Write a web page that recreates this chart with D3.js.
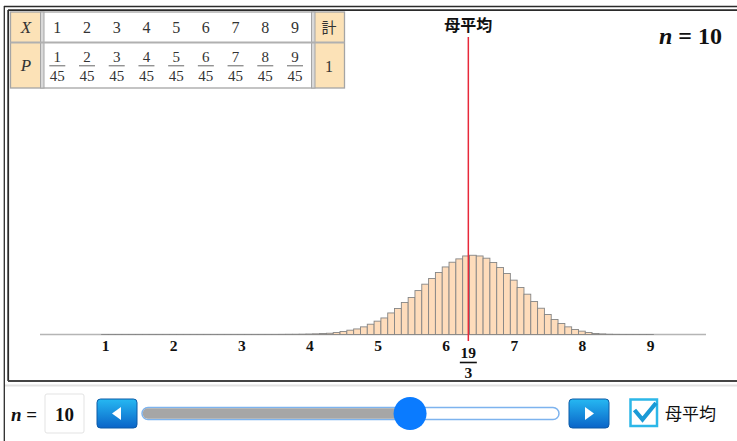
<!DOCTYPE html>
<html><head><meta charset="utf-8">
<script src="https://cdn.jsdelivr.net/npm/d3@7"></script>
<style>
html,body{margin:0;padding:0;background:#fff;overflow:hidden}
svg{display:block}
.serif{font-family:"Liberation Serif","DejaVu Serif",serif}
.cjk{font-family:"Noto Sans CJK JP","Noto Sans CJK SC",sans-serif}
</style>
</head><body>
<svg id="c" width="737" height="441"></svg>
<script>
// ---------- data ----------
const tableX = [1, 2, 3, 4, 5, 6, 7, 8, 9];
const tableNum = [1, 2, 3, 4, 5, 6, 7, 8, 9];
const tableDen = 45;
const totalHeader = "計";
const totalValue = "1";
const sampleSize = 10;
const popMean = 19 / 3;
const meanLabel = "母平均";
const axisTicks = [1, 2, 3, 4, 5, 6, 7, 8, 9];
const sampleMeans = [1.0,1.1,1.2,1.3,1.4,1.5,1.6,1.7,1.8,1.9,
  2.0,2.1,2.2,2.3,2.4,2.5,2.6,2.7,2.8,2.9,
  3.0,3.1,3.2,3.3,3.4,3.5,3.6,3.7,3.8,3.9,
  4.0,4.1,4.2,4.3,4.4,4.5,4.6,4.7,4.8,4.9,
  5.0,5.1,5.2,5.3,5.4,5.5,5.6,5.7,5.8,5.9,
  6.0,6.1,6.2,6.3,6.4,6.5,6.6,6.7,6.8,6.9,
  7.0,7.1,7.2,7.3,7.4,7.5,7.6,7.7,7.8,7.9,
  8.0,8.1,8.2,8.3,8.4,8.5,8.6,8.7,8.8,8.9,9.0];
const probs = [0,0,0,0,0,0,0,0,0,0,
  0,0,0,0,0,0,0,0,0,0,
  0,0,0,0,0,0.00003,0.00006,0.0001,0.00012,0.00018,
  0.0003,0.00045,0.0007,0.0009,0.0014,0.0022,0.0031,0.0040,0.0055,0.0074,
  0.0096,0.0119,0.0155,0.0187,0.0230,0.0266,0.0316,0.0362,0.0403,0.0446,
  0.0486,0.0520,0.0544,0.0565,0.0570,0.0565,0.0549,0.0518,0.0482,0.0439,
  0.0391,0.0338,0.0290,0.0237,0.0189,0.0144,0.0108,0.0079,0.0055,0.0036,
  0.0024,0.0014,0.0007,0.0004,0.00015,0.00007,0.00003,0.00001,0,0,0];
const sliderRange = [1, 15];

// ---------- drawing ----------
const svg = d3.select("#c");
const x = d3.scaleLinear().domain([1, 9]).range([105, 650]);
const baseY = 334.5;
const y = d3.scaleLinear().domain([0, 0.06]).range([baseY, baseY - 0.06 * 1390]);
const bw = x(1.1) - x(1.0);

// frame
const frame = svg.append("g").attr("stroke", "#2b2b2b").attr("fill", "none");
frame.append("line").attr("x1", 4).attr("x2", 737).attr("y1", 6.5).attr("y2", 6.5).attr("stroke-width", 1.3);
frame.append("line").attr("x1", 8).attr("x2", 737).attr("y1", 10.2).attr("y2", 10.2).attr("stroke-width", 1.8);
frame.append("line").attr("x1", 4.3).attr("x2", 4.3).attr("y1", 6).attr("y2", 441).attr("stroke-width", 1.3);
frame.append("line").attr("x1", 8.2).attr("x2", 8.2).attr("y1", 10).attr("y2", 381).attr("stroke-width", 1.8);
frame.append("line").attr("x1", 8).attr("x2", 737).attr("y1", 381).attr("y2", 381).attr("stroke-width", 2).attr("stroke", "#444");
svg.append("line").attr("x1", 5).attr("x2", 737).attr("y1", 385.5).attr("y2", 385.5)
  .attr("stroke", "#e2e2e2").attr("stroke-width", 2);

// table
const tbl = svg.append("g");
const colX = d3.scaleLinear().domain([1, 9]).range([57.3, 295]);
const beige = "#fce2b7";
tbl.append("rect").attr("x", 10.5).attr("y", 12).attr("width", 334).attr("height", 76).attr("fill", "#fff");
tbl.append("rect").attr("x", 10.5).attr("y", 12).attr("width", 30).attr("height", 76).attr("fill", beige);
tbl.append("rect").attr("x", 314.5).attr("y", 12).attr("width", 30).attr("height", 76).attr("fill", beige);
tbl.append("rect").attr("x", 10.5).attr("y", 12).attr("width", 334).attr("height", 76)
  .attr("fill", "none").attr("stroke", "#a5a5a5").attr("stroke-width", 1.3);
[[40.5, 44], [311.5, 315]].forEach(([a, b]) => {
  tbl.append("rect").attr("x", a).attr("y", 12).attr("width", b - a).attr("height", 76)
    .attr("fill", "#d9d9d9").attr("stroke", "#a5a5a5").attr("stroke-width", 1);
});
tbl.append("line").attr("x1", 10.5).attr("x2", 344.5).attr("y1", 42.5).attr("y2", 42.5)
  .attr("stroke", "#b0b0b0").attr("stroke-width", 1.8);
tbl.append("text").attr("class", "serif").attr("x", 26).attr("y", 33).attr("text-anchor", "middle")
  .attr("font-size", 17).attr("font-style", "italic").attr("fill", "#333").text("X");
tbl.append("text").attr("class", "serif").attr("x", 26).attr("y", 71).attr("text-anchor", "middle")
  .attr("font-size", 17).attr("font-style", "italic").attr("fill", "#333").text("P");
tbl.selectAll(".xv").data(tableX).join("text").attr("class", "serif xv")
  .attr("x", d => colX(d)).attr("y", 33).attr("text-anchor", "middle")
  .attr("font-size", 16).attr("fill", "#333").text(d => d);
const fr = tbl.selectAll(".fr").data(tableNum).join("g").attr("class", "fr")
  .attr("transform", (d, i) => `translate(${colX(tableX[i])},0)`);
fr.append("text").attr("class", "serif").attr("y", 62).attr("text-anchor", "middle")
  .attr("font-size", 15).attr("fill", "#333").text(d => d);
fr.append("line").attr("x1", -8).attr("x2", 8).attr("y1", 65.8).attr("y2", 65.8)
  .attr("stroke", "#666").attr("stroke-width", 1);
fr.append("text").attr("class", "serif").attr("y", 80.5).attr("text-anchor", "middle")
  .attr("font-size", 15).attr("fill", "#333").text(tableDen);
tbl.append("text").attr("class", "cjk").attr("x", 329).attr("y", 33).attr("text-anchor", "middle")
  .attr("font-size", 15).attr("fill", "#333").text(totalHeader);
tbl.append("text").attr("class", "serif").attr("x", 329).attr("y", 71.5).attr("text-anchor", "middle")
  .attr("font-size", 16).attr("fill", "#333").text(totalValue);

// baseline
svg.append("line").attr("x1", 40).attr("x2", 706).attr("y1", baseY).attr("y2", baseY)
  .attr("stroke", "#b5b5b5").attr("stroke-width", 1.5);

// bars (minimum height so empty bars still draw their outline on the baseline)
svg.append("g").selectAll("rect").data(sampleMeans).join("rect")
  .attr("x", (d) => x(d) - bw / 2)
  .attr("width", bw)
  .attr("y", (d, i) => Math.min(y(probs[i]), baseY - 0.05))
  .attr("height", (d, i) => Math.max(baseY - y(probs[i]), 0.05))
  .attr("fill", "#fedcbb")
  .attr("stroke", "#858585")
  .attr("stroke-width", 0.9);

// axis labels
const ax = svg.append("g").attr("transform", `translate(0,${351})`)
  .call(d3.axisBottom(x).tickValues(axisTicks).tickSize(0).tickFormat(d3.format("d")));
ax.select(".domain").remove();
ax.selectAll("text").attr("y", 0).attr("dy", null)
  .attr("font-family", "Liberation Serif, serif").attr("font-weight", "bold")
  .attr("font-size", 15.5).attr("fill", "#111");

// population mean line
const mx = x(popMean);
svg.append("line").attr("x1", mx).attr("x2", mx).attr("y1", 37).attr("y2", 341)
  .attr("stroke", "#e8283a").attr("stroke-width", 1.5);
svg.append("text").attr("class", "cjk").attr("x", mx).attr("y", 31).attr("text-anchor", "middle")
  .attr("font-size", 16).attr("font-weight", "bold").attr("fill", "#111").text(meanLabel);
const fg = svg.append("g").attr("class", "serif").attr("font-weight", "bold").attr("fill", "#111").attr("font-size", 15.5);
fg.append("text").attr("x", mx).attr("y", 357.5).attr("text-anchor", "middle").text("19");
fg.append("line").attr("x1", mx - 8.5).attr("x2", mx + 8.5).attr("y1", 362.5).attr("y2", 362.5)
  .attr("stroke", "#111").attr("stroke-width", 1.6);
fg.append("text").attr("x", mx).attr("y", 377.5).attr("text-anchor", "middle").text("3");

// n = 10 top right
const nt = svg.append("text").attr("class", "serif").attr("x", 722).attr("y", 43.5).attr("text-anchor", "end")
  .attr("font-size", 24).attr("font-weight", "bold").attr("fill", "#111");
nt.append("tspan").attr("font-style", "italic").text("n");
nt.append("tspan").attr("xml:space", "preserve").text(" = " + sampleSize);

// ---------- controls ----------
const ctrl = svg.append("g");
const nl = ctrl.append("text").attr("class", "serif").attr("x", 11).attr("y", 420.5)
  .attr("font-size", 19).attr("font-weight", "bold").attr("fill", "#111");
nl.append("tspan").attr("font-style", "italic").text("n");
nl.append("tspan").text(" =");
ctrl.append("rect").attr("x", 45).attr("y", 394).attr("width", 39).attr("height", 39).attr("rx", 2)
  .attr("fill", "#fff").attr("stroke", "#e3e3e3");
ctrl.append("text").attr("class", "serif").attr("x", 64.5).attr("y", 420.5).attr("text-anchor", "middle")
  .attr("font-size", 19).attr("font-weight", "bold").attr("fill", "#111").text(sampleSize);

const defs = svg.append("defs");
const grad = defs.append("linearGradient").attr("id", "btn").attr("x1", 0).attr("y1", 0).attr("x2", 0).attr("y2", 1);
grad.append("stop").attr("offset", "0%").attr("stop-color", "#26b8f2");
grad.append("stop").attr("offset", "100%").attr("stop-color", "#0a64c8");

function button(x0, dir) {
  const g = ctrl.append("g").attr("transform", `translate(${x0},399)`);
  g.append("rect").attr("width", 40).attr("height", 29).attr("rx", 3.5)
    .attr("fill", "url(#btn)").attr("stroke", "#0c5aa6").attr("stroke-width", 1);
  const cx = 20, cy = 14.5;
  const pts = dir < 0 ? [[cx + 4, cy - 6.5], [cx + 4, cy + 6.5], [cx - 5, cy]]
                      : [[cx - 4, cy - 6.5], [cx - 4, cy + 6.5], [cx + 5, cy]];
  g.append("polygon").attr("points", pts.map(p => p.join(",")).join(" ")).attr("fill", "#fff");
}
button(97, -1);
button(569, 1);

const sx = d3.scaleLinear().domain(sliderRange).range([142, 559]);
const knobX = sx(sampleSize);
ctrl.append("rect").attr("x", 142).attr("y", 407.5).attr("width", 417).attr("height", 12).attr("rx", 6)
  .attr("fill", "#fff").attr("stroke", "#7db3ee").attr("stroke-width", 1.5);
ctrl.append("rect").attr("x", 142.8).attr("y", 408.3).attr("width", knobX - 142.8).attr("height", 10.4).attr("rx", 5)
  .attr("fill", "#a6a6a6");
ctrl.append("ellipse").attr("cx", knobX).attr("cy", 413.5).attr("rx", 16.5).attr("ry", 16.5).attr("fill", "#0a7bff");

ctrl.append("rect").attr("x", 630.5).attr("y", 399.5).attr("width", 26.5).attr("height", 26.5)
  .attr("fill", "#fff").attr("stroke", "#2cb7e8").attr("stroke-width", 2.5);
ctrl.append("polyline").attr("points", "634.5,410 642.5,419.5 656,403")
  .attr("fill", "none").attr("stroke", "#1a9ad6").attr("stroke-width", 4.2).attr("stroke-linecap", "butt");
ctrl.append("text").attr("class", "cjk").attr("x", 665).attr("y", 419.5)
  .attr("font-size", 17).attr("fill", "#111").text(meanLabel);
</script>
</body></html>
